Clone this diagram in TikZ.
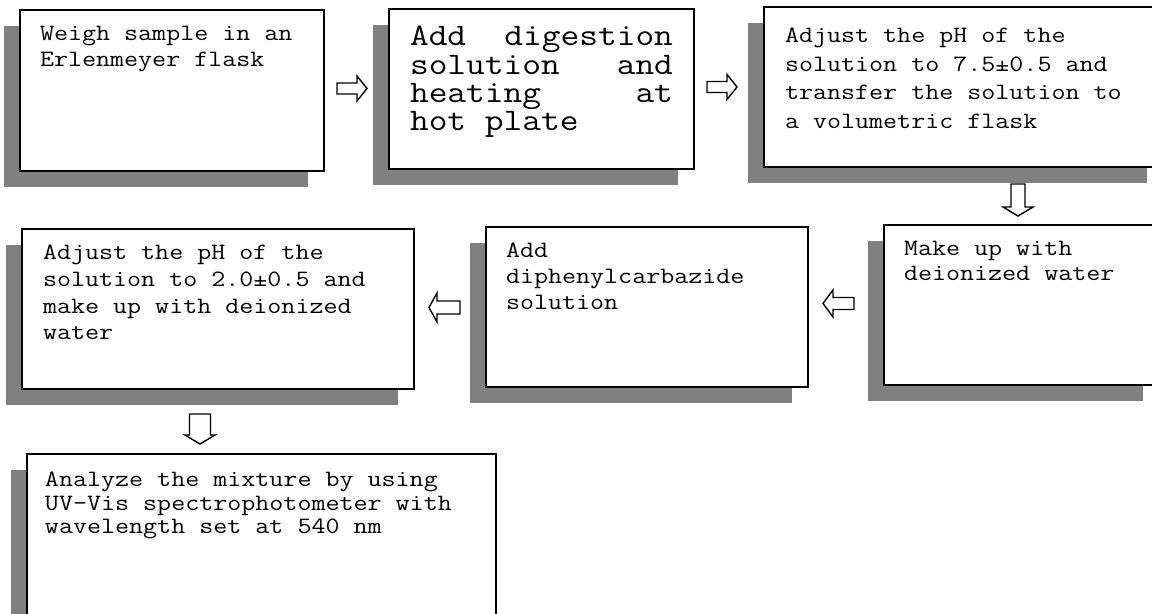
\documentclass[tikz,border=0pt]{standalone}
\usepackage{fontspec}
\usepackage{graphicx}
\usetikzlibrary{shadows}
\definecolor{shadowgray}{HTML}{808080}
\tikzset{
  stepbox/.style={draw=black, line width=1pt, fill=white, anchor=north west, inner sep=0pt, outer sep=0pt,
    drop shadow={shadow xshift=-8pt, shadow yshift=-8pt, opacity=1, fill=shadowgray}},
  blockarrow/.style={draw=black, line width=0.7pt, fill=white, line join=miter},
  steptext/.style={anchor=base west, inner sep=0pt, outer sep=0pt},
}
\newcommand\harrow[6]{% coord, dir, length, shaft half, head half, head length
  \begin{scope}[shift={(#1)}, xscale=#2]
    \draw[blockarrow] (0,-#4) -- ({#3-#6},-#4) -- ({#3-#6},-#5) -- (#3,0) -- ({#3-#6},#5) -- ({#3-#6},#4) -- (0,#4) -- cycle;
  \end{scope}}
\newcommand\varrow[5]{% coord (top centre), length, shaft half, head half, head length
  \begin{scope}[shift={(#1)}]
    \draw[blockarrow] (-#3,0) -- (-#3,{#2-#5}) -- (-#4,{#2-#5}) -- (0,#2) -- (#4,{#2-#5}) -- (#3,{#2-#5}) -- (#3,0) -- cycle;
  \end{scope}}
\newcommand\txt[3]{\scalebox{1}[0.86]{\parbox[t]{300pt}{\ttfamily\fontsize{#1}{#2}\selectfont\lineskiplimit=-20pt\raggedright #3}}}
\begin{document}
\begin{tikzpicture}[x=0.5pt, y=-0.5pt]
\useasboundingbox (0,0) rectangle (1152,614);
\clip (0,0) rectangle (1152,614);
% boxes
\node[stepbox, minimum width=152pt, minimum height=80.5pt] (b1) at (20,10) {};
\node[stepbox, minimum width=152.5pt, minimum height=80pt] (b2) at (389,9) {};
\node[stepbox, minimum width=199.5pt, minimum height=80pt] (b3) at (764,7) {};
\node[stepbox, minimum width=137.5pt, minimum height=80pt] (b4) at (884,225) {};
\node[stepbox, minimum width=161pt, minimum height=80pt] (b5) at (486,227) {};
\node[stepbox, minimum width=196pt, minimum height=80pt] (b6) at (22,229) {};
\node[stepbox, minimum width=234.5pt, minimum height=90pt] (b7) at (27,454) {};
% texts
\node[steptext] (t1) at (40,41) {\txt{13.62}{15.1}{Weigh sample in an\\Erlenmeyer flask}};
\node[steptext] (t2) at (410,46) {\scalebox{1}[0.86]{\parbox[t]{140pt}{\ttfamily\fontsize{18.2}{16.3}\selectfont\lineskiplimit=-20pt
  \hbox to 131.5pt{Add\hfill digestion}\hbox to 131.5pt{solution\hfill and}\hbox to 131.5pt{heating\hfill at}\hbox{hot plate}}}};
\node[steptext] (t3) at (785,43) {\txt{13.62}{16.5}{Adjust the pH of the\\solution to 7.5±0.5 and\\transfer the solution to\\a volumetric flask}};
\node[steptext] (t4) at (904,256) {\txt{13.62}{14.5}{Make up with\\deionized water}};
\node[steptext] (t5) at (506,258) {\txt{13.62}{15.1}{Add\\diphenylcarbazide\\solution}};
\node[steptext] (t6) at (43,260) {\txt{13.62}{15.5}{Adjust the pH of the\\solution to 2.0±0.5 and\\make up with deionized\\water}};
\node[steptext] (t7) at (45,487) {\txt{13.62}{13.6}{Analyze the mixture by using\\UV-Vis spectrophotometer with\\wavelength set at 540 nm}};
% arrows
\coordinate (a1) at (337,88.5);
\coordinate (a2) at (707,87);
\coordinate (a3) at (1018,184);
\coordinate (a4) at (854,303.5);
\coordinate (a5) at (460,307.5);
\coordinate (a6) at (200,414);
\harrow{a1}{1}{30}{5.5}{12.5}{10}
\harrow{a2}{1}{30}{5.5}{12.5}{10}
\varrow{a3}{32}{7}{15}{9}
\harrow{a4}{-1}{31}{6}{13.5}{10}
\harrow{a5}{-1}{31}{6.5}{14.5}{8}
\varrow{a6}{30}{10.5}{15}{9}
\end{tikzpicture}
\end{document}
